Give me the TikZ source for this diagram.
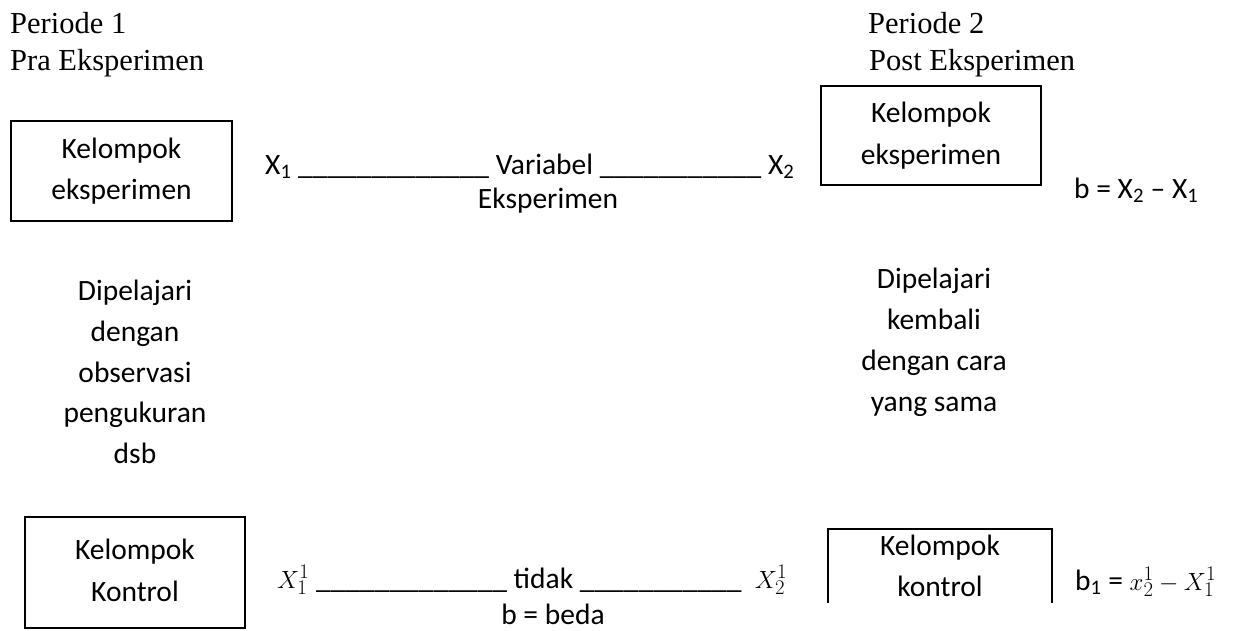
\documentclass[tikz,border=0pt]{standalone}
\usepackage{fontspec}
\setmainfont{Carlito}
\newfontfamily\tnr{Liberation Serif}
\begin{document}
\begin{tikzpicture}[x=1pt,y=-1pt,
  cal/.style={font=\fontsize{29.5}{41.5}\selectfont, inner sep=0pt},
  ttl/.style={font=\tnr\fontsize{30.5}{37}\selectfont, inner sep=0pt, anchor=base west},
  grpbox/.style={cal, draw, line width=1.6pt, align=center},
  openbox/.style={cal, align=center}]
\useasboundingbox (0,0) rectangle (1236,630);
% titles
\node[ttl] (p1) at (10,33) {Periode 1};
\node[ttl] (p1b) at (10,70) {Pra Eksperimen};
\node[ttl] (p2) at (868,33) {Periode 2};
\node[ttl] (p2b) at (869,70) {Post Eksperimen};
% boxes
\node[grpbox, minimum width=221pt, minimum height=100pt] (b1) at (121.5,171) {Kelompok\\eksperimen};
\node[grpbox, minimum width=220pt, minimum height=99pt] (b2) at (931,135.5) {Kelompok\\eksperimen};
\node[grpbox, minimum width=220pt, minimum height=111pt] (b3) at (135,572.5) {Kelompok\\Kontrol\vphantom{p}};
\node[openbox, minimum width=224pt, minimum height=74pt] (b4) at (940,566) {Kelompok\\kontrol};
\draw[line width=1.6pt] (b4.south west) -- (b4.north west) -- (b4.north east) -- (b4.south east);
% row 1
\node[cal, anchor=base west] (r1) at (265,174) {X\textsubscript{1} \_\_\_\_\_\_\_\_\_\_\_\_\_ Variabel \_\_\_\_\_\_\_\_\_\_\_ X\textsubscript{2}};
\node[cal, anchor=base] (eks) at (548,208) {Eksperimen};
\node[cal, anchor=base west] (bx) at (1074,198) {b = X\textsubscript{2} -- X\textsubscript{1}};
% left column
\node[cal, anchor=base] (l1) at (135,300) {Dipelajari};
\node[cal, anchor=base] (l2) at (135,341) {dengan};
\node[cal, anchor=base] (l3) at (135,382) {observasi};
\node[cal, anchor=base] (l4) at (135,422) {pengukuran};
\node[cal, anchor=base] (l5) at (135,463) {dsb};
% right column
\node[cal, anchor=base] (m1) at (934,288) {Dipelajari};
\node[cal, anchor=base] (m2) at (934,329) {kembali};
\node[cal, anchor=base] (m3) at (934,370) {dengan cara};
\node[cal, anchor=base] (m4) at (934,411) {yang sama};
% row 2
\node[cal, anchor=base west] (r2) at (277,588) {$X_1^1$ \_\_\_\_\_\_\_\_\_\_\_\_\_ tidak \_\_\_\_\_\_\_\_\_\_\_ \ $X_2^1$};
\node[cal, anchor=base] (beda) at (553,624) {b = beda};
\node[cal, anchor=base west] (bk) at (1075,590) {b\textsubscript{1} = $x_2^1 - X_1^1$};
\end{tikzpicture}
\end{document}
